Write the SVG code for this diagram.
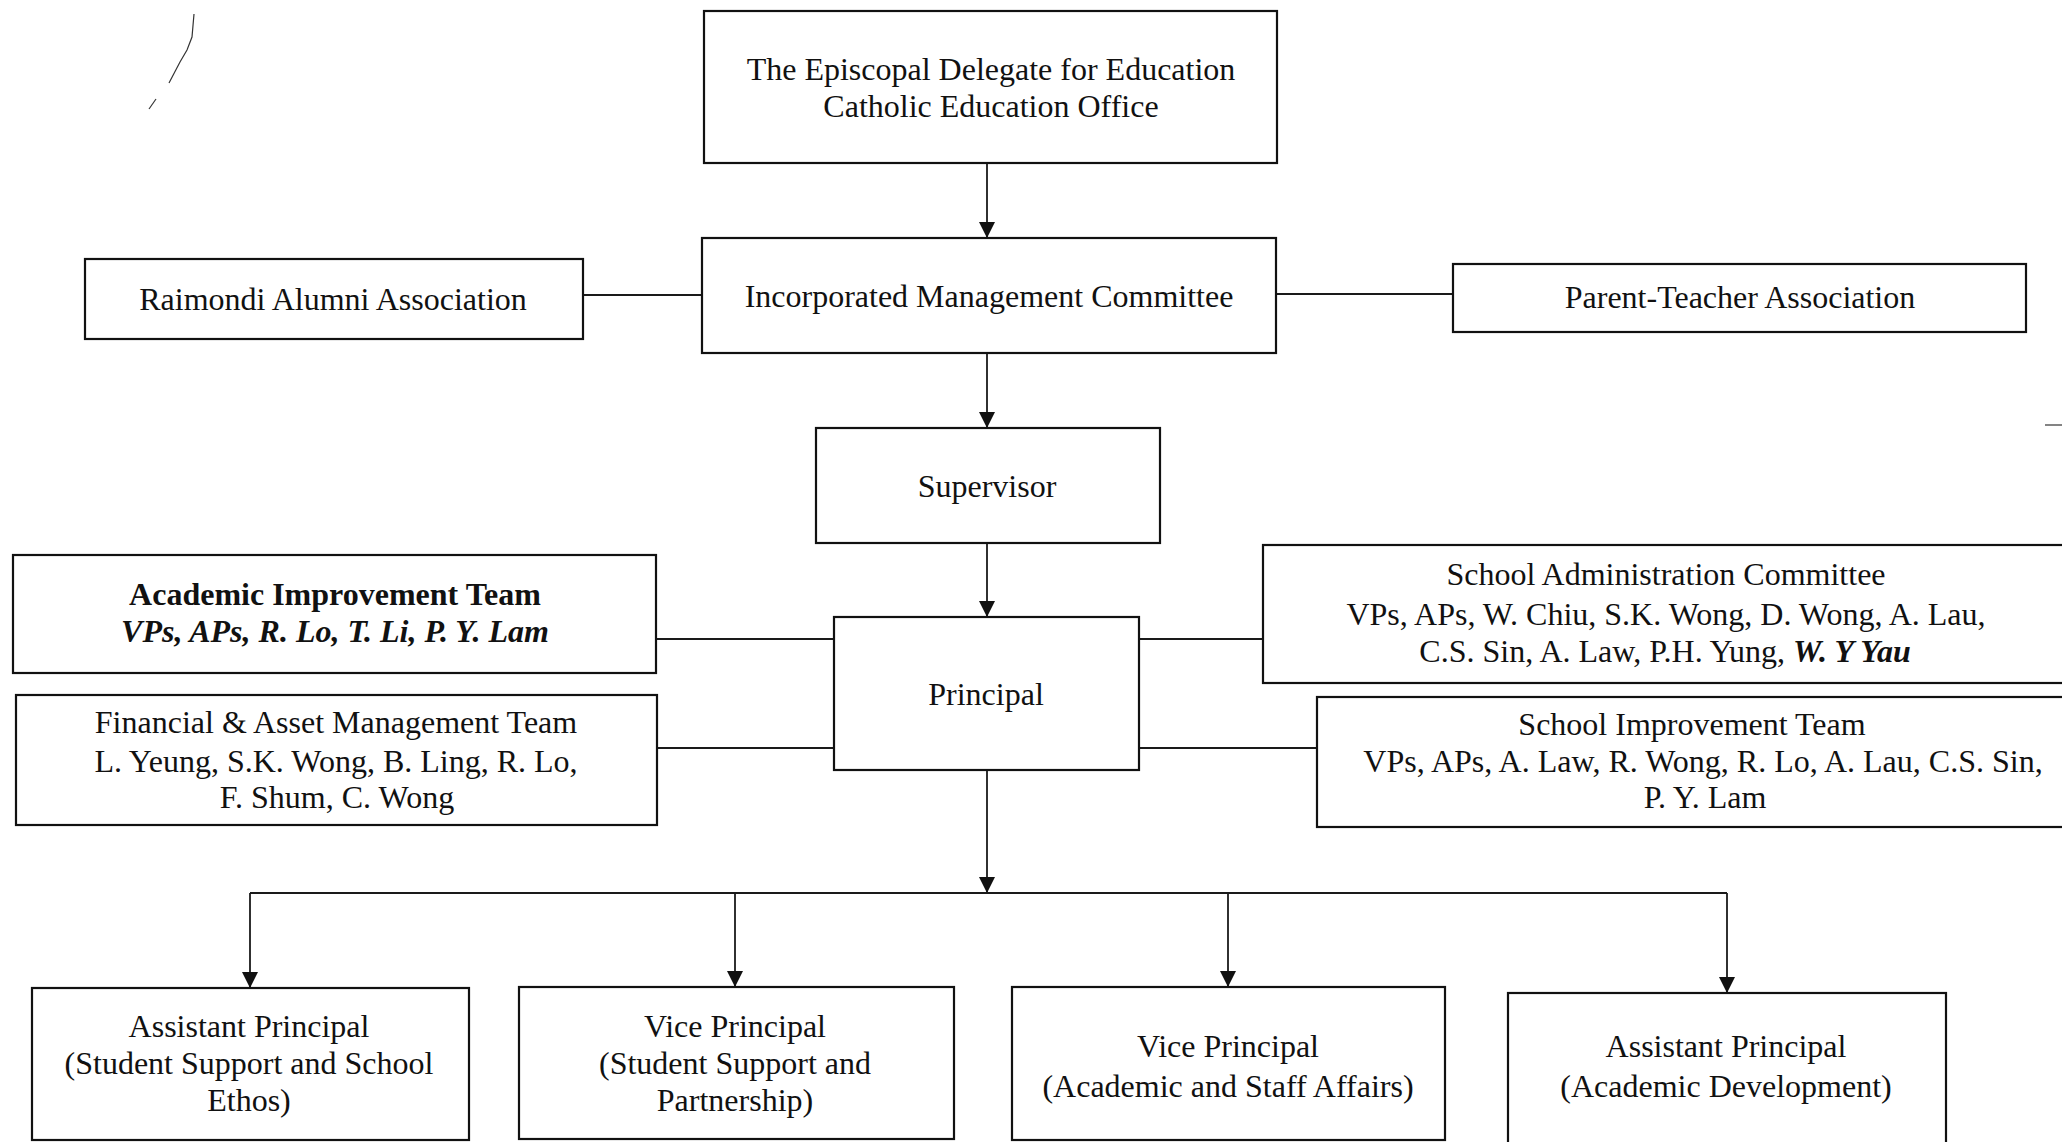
<svg xmlns="http://www.w3.org/2000/svg" width="2062" height="1142" viewBox="0 0 2062 1142">
<style>
  .box { fill: #ffffff; stroke: #111111; stroke-width: 2.2; }
  .t { font-family: "Liberation Serif", "Times New Roman", serif; font-size: 32px; fill: #111111; text-anchor: middle; }
  .b { font-weight: bold; }
  .bi { font-weight: bold; font-style: italic; }
  .ln { fill: none; stroke: #1a1a1a; stroke-width: 1.8; }
  .art { fill: none; stroke: #333333; stroke-width: 1.2; }
</style>
<defs>
  <marker id="arr" viewBox="0 0 16 16" markerWidth="16" markerHeight="17" refX="16" refY="8" orient="auto" markerUnits="userSpaceOnUse">
    <path d="M0,0 L16,8 L0,16 z" fill="#111111"/>
  </marker>
</defs>
<rect x="0" y="0" width="2062" height="1142" fill="#ffffff"/>

<!-- scan artifacts -->
<path class="art" d="M194,14 L192,37 L187,50 L180,62 L169,83"/>
<path class="art" d="M156,99 L149,109"/>
<path class="art" d="M2045,425 L2062,425"/>

<g id="connectors">
  <line class="ln" x1="987" y1="163" x2="987" y2="238" marker-end="url(#arr)"/>
  <line class="ln" x1="987" y1="353" x2="987" y2="428" marker-end="url(#arr)"/>
  <line class="ln" x1="987" y1="543" x2="987" y2="617" marker-end="url(#arr)"/>
  <line class="ln" x1="583" y1="295" x2="702" y2="295"/>
  <line class="ln" x1="1276" y1="294" x2="1453" y2="294"/>
  <line class="ln" x1="656" y1="639" x2="834" y2="639"/>
  <line class="ln" x1="1139" y1="639" x2="1263" y2="639"/>
  <line class="ln" x1="657" y1="748" x2="834" y2="748"/>
  <line class="ln" x1="1139" y1="748" x2="1317" y2="748"/>
  <line class="ln" x1="987" y1="770" x2="987" y2="893" marker-end="url(#arr)"/>
  <line class="ln" x1="250" y1="893" x2="1727" y2="893"/>
  <line class="ln" x1="250" y1="893" x2="250" y2="988" marker-end="url(#arr)"/>
  <line class="ln" x1="735" y1="893" x2="735" y2="987" marker-end="url(#arr)"/>
  <line class="ln" x1="1228" y1="893" x2="1228" y2="987" marker-end="url(#arr)"/>
  <line class="ln" x1="1727" y1="893" x2="1727" y2="993" marker-end="url(#arr)"/>
</g>

<g id="episcopal">
  <rect class="box" x="704" y="11" width="573" height="152"/>
  <text class="t" x="991" y="80">The Episcopal Delegate for Education</text>
  <text class="t" x="991" y="117">Catholic Education Office</text>
</g>

<g id="imc">
  <rect class="box" x="702" y="238" width="574" height="115"/>
  <text class="t" x="989" y="307">Incorporated Management Committee</text>
</g>

<g id="alumni">
  <rect class="box" x="85" y="259" width="498" height="80"/>
  <text class="t" x="333" y="310">Raimondi Alumni Association</text>
</g>

<g id="pta">
  <rect class="box" x="1453" y="264" width="573" height="68"/>
  <text class="t" x="1740" y="308">Parent-Teacher Association</text>
</g>

<g id="supervisor">
  <rect class="box" x="816" y="428" width="344" height="115"/>
  <text class="t" x="987" y="497">Supervisor</text>
</g>

<g id="principal">
  <rect class="box" x="834" y="617" width="305" height="153"/>
  <text class="t" x="986" y="705">Principal</text>
</g>

<g id="academic-improvement">
  <rect class="box" x="13" y="555" width="643" height="118"/>
  <text class="t b" x="335" y="605">Academic Improvement Team</text>
  <text class="t bi" x="335" y="642">VPs, APs, R. Lo, T. Li, P. Y. Lam</text>
</g>

<g id="financial">
  <rect class="box" x="16" y="695" width="641" height="130"/>
  <text class="t" x="336" y="733">Financial &amp; Asset Management Team</text>
  <text class="t" x="336" y="772">L. Yeung, S.K. Wong, B. Ling, R. Lo,</text>
  <text class="t" x="337" y="808">F. Shum, C. Wong</text>
</g>

<g id="school-admin">
  <rect class="box" x="1263" y="545" width="820" height="138"/>
  <text class="t" x="1666" y="585">School Administration Committee</text>
  <text class="t" x="1666" y="625">VPs, APs, W. Chiu, S.K. Wong, D. Wong, A. Lau,</text>
  <text class="t" x="1665" y="662">C.S. Sin, A. Law, P.H. Yung, <tspan class="bi">W. Y Yau</tspan></text>
</g>

<g id="school-improvement">
  <rect class="box" x="1317" y="697" width="766" height="130"/>
  <text class="t" x="1692" y="735">School Improvement Team</text>
  <text class="t" x="1703" y="772">VPs, APs, A. Law, R. Wong, R. Lo, A. Lau, C.S. Sin,</text>
  <text class="t" x="1705" y="808">P. Y. Lam</text>
</g>

<g id="ap-student-support">
  <rect class="box" x="32" y="988" width="437" height="152"/>
  <text class="t" x="249" y="1037">Assistant Principal</text>
  <text class="t" x="249" y="1074">(Student Support and School</text>
  <text class="t" x="249" y="1111">Ethos)</text>
</g>

<g id="vp-student-support">
  <rect class="box" x="519" y="987" width="435" height="152"/>
  <text class="t" x="735" y="1037">Vice Principal</text>
  <text class="t" x="735" y="1074">(Student Support and</text>
  <text class="t" x="735" y="1111">Partnership)</text>
</g>

<g id="vp-academic">
  <rect class="box" x="1012" y="987" width="433" height="153"/>
  <text class="t" x="1228" y="1057">Vice Principal</text>
  <text class="t" x="1228" y="1097">(Academic and Staff Affairs)</text>
</g>

<g id="ap-academic">
  <rect class="box" x="1508" y="993" width="438" height="170"/>
  <text class="t" x="1726" y="1057">Assistant Principal</text>
  <text class="t" x="1726" y="1097">(Academic Development)</text>
</g>
</svg>
